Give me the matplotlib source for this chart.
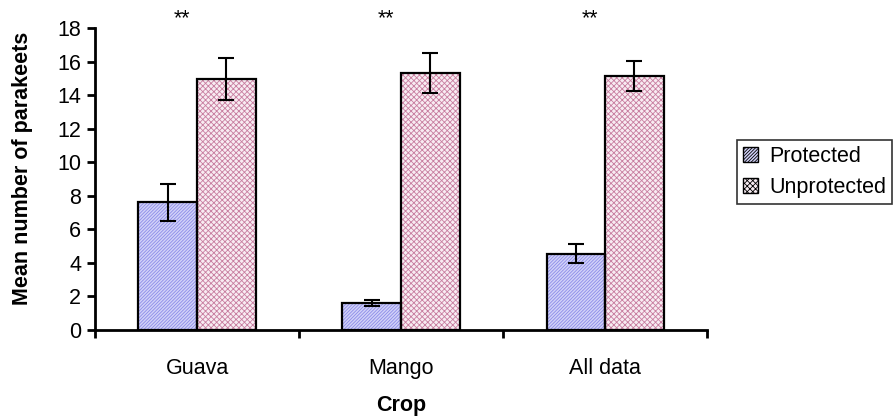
import numpy as np
import matplotlib
matplotlib.use("Agg")
import matplotlib.pyplot as plt
from matplotlib.patches import Patch

plt.rcParams["font.family"] = ["Liberation Sans", "DejaVu Sans"]
plt.rcParams["hatch.linewidth"] = 0.6

# DATA
crops = ["Guava", "Mango", "All data"]
protected = [7.6, 1.6, 4.55]
protected_err = [1.1, 0.17, 0.57]
unprotected = [14.95, 15.3, 15.15]
unprotected_err = [1.24, 1.2, 0.9]
signif = ["**", "**", "**"]

x = np.arange(len(crops))
w = 0.287
fs = 15.5

fig = plt.figure(figsize=(8.94, 4.2), dpi=100)
ax = fig.add_axes([0.1063, 0.2143, 0.6846, 0.719])

# hatched fills first, then black outlines on top
ax.bar(x - w / 2, protected, w, color="#d2d2f8", edgecolor="#8c8ce8",
       hatch="//////////", linewidth=0)
ax.bar(x + w / 2, unprotected, w, color="#f8ecf2", edgecolor="#c87ea0",
       hatch="xxxxxx", linewidth=0)
ax.bar(x - w / 2, protected, w, fill=False, edgecolor="black", linewidth=1.6)
ax.bar(x + w / 2, unprotected, w, fill=False, edgecolor="black", linewidth=1.6)

ax.errorbar(x - w / 2, protected, yerr=protected_err, fmt="none",
            ecolor="black", elinewidth=1.5, capsize=6, capthick=1.5)
ax.errorbar(x + w / 2, unprotected, yerr=unprotected_err, fmt="none",
            ecolor="black", elinewidth=1.5, capsize=6, capthick=1.5)

for xi, s in zip(x, signif):
    ax.text(xi - 0.075, 18.55, s, ha="center", va="center", fontsize=fs,
            clip_on=False)

ax.set_xlim(-0.5, 2.5)
ax.set_ylim(0, 18)
ax.set_yticks(np.arange(0, 19, 2))
ax.set_xticks(x)
ax.set_xticklabels(crops)
ax.set_xticks(np.arange(-0.5, 3, 1), minor=True)
ax.tick_params(axis="x", which="major", length=0, pad=20, labelsize=fs)
ax.tick_params(axis="x", which="minor", length=6, width=2, direction="out")
ax.tick_params(axis="y", length=6, width=2, direction="out", pad=4,
               labelsize=fs)

for side in ["top", "right"]:
    ax.spines[side].set_visible(False)
for side in ["left", "bottom"]:
    ax.spines[side].set_linewidth(2)

ax.set_xlabel("Crop", fontsize=fs, fontweight="bold")
ax.xaxis.set_label_coords(0.5, -0.215)
ax.set_ylabel("Mean number of parakeets", fontsize=fs, fontweight="bold")
ax.yaxis.set_label_coords(-0.102, 0.535)

handles = [
    Patch(facecolor="#d2d2f8", edgecolor="black", hatch="//////////",
          linewidth=1),
    Patch(facecolor="#f8ecf2", edgecolor="black", hatch="xxxxxx",
          linewidth=1),
]
leg = fig.legend(handles, ["Protected", "Unprotected"], loc="upper left",
                 bbox_to_anchor=(0.824, 0.667), fontsize=fs, frameon=True,
                 fancybox=False, edgecolor="black", handlelength=0.7,
                 handleheight=0.7, handletextpad=0.5, borderaxespad=0,
                 borderpad=0.3, labelspacing=0.45)
leg.get_frame().set_linewidth(1.2)

fig.savefig("out.png", dpi=100)
